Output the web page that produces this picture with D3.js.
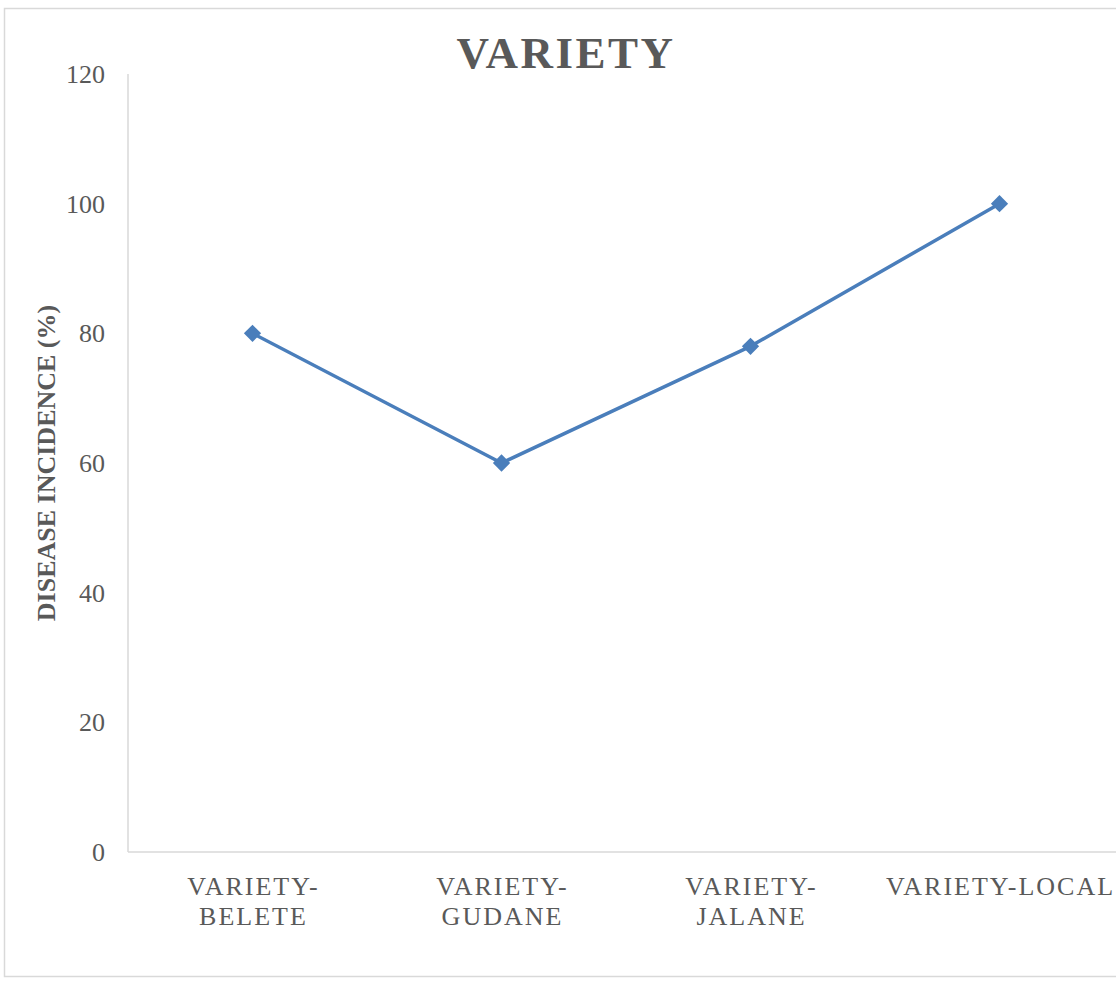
<!DOCTYPE html>
<html>
<head>
<meta charset="utf-8">
<script src="https://cdn.jsdelivr.net/npm/d3@7"></script>
<style>
  html, body { margin: 0; padding: 0; background: #fff; }
  svg { display: block; }
  text { font-family: "Liberation Serif", "Times New Roman", serif; }
</style>
</head>
<body>
<svg id="chart" width="1116" height="982"></svg>
<script>
// Disease incidence by variety
const categories = ["VARIETY-BELETE", "VARIETY-GUDANE", "VARIETY-JALANE", "VARIETY-LOCAL"];
const tickLines = [["VARIETY-", "BELETE"], ["VARIETY-", "GUDANE"], ["VARIETY-", "JALANE"], ["VARIETY-LOCAL"]];
const incidence = [80, 60, 78, 100];
const yTicks = [0, 20, 40, 60, 80, 100, 120];

const svg = d3.select("#chart");
const margin = { left: 128, top: 74, bottom: 852 };

// outer chart border
svg.append("rect")
  .attr("x", 4.5).attr("y", 8.5)
  .attr("width", 1200).attr("height", 968)
  .attr("fill", "#fff").attr("stroke", "#d9d9d9").attr("stroke-width", 1.5);

const x = d3.scaleBand().domain(categories).range([margin.left, margin.left + 4 * 249]);
const y = d3.scaleLinear().domain([0, 120]).range([margin.bottom, margin.top]);

// axis lines
svg.append("line")
  .attr("x1", margin.left).attr("x2", margin.left)
  .attr("y1", margin.top).attr("y2", margin.bottom)
  .attr("stroke", "#d9d9d9").attr("stroke-width", 1.5);
svg.append("line")
  .attr("x1", margin.left).attr("x2", 1116)
  .attr("y1", margin.bottom).attr("y2", margin.bottom)
  .attr("stroke", "#d9d9d9").attr("stroke-width", 1.5);

// y tick labels
svg.append("g").selectAll("text").data(yTicks).join("text")
  .attr("x", 105).attr("y", d => y(d))
  .attr("dy", "0.35em")
  .attr("text-anchor", "end")
  .attr("font-size", 26)
  .attr("fill", "#595959")
  .text(d => d);

// x tick labels
const xl = svg.append("g").selectAll("text").data(categories).join("text")
  .attr("x", d => x(d) + x.bandwidth() / 2 + 1)
  .attr("y", 895)
  .attr("text-anchor", "middle")
  .attr("font-size", 26)
  .attr("letter-spacing", 2)
  .attr("fill", "#595959");
xl.each(function (d, i) {
  const t = d3.select(this);
  tickLines[i].forEach((ln, j) => {
    t.append("tspan")
      .attr("x", x(d) + x.bandwidth() / 2 + 1)
      .attr("dy", j === 0 ? 0 : 30)
      .text(ln);
  });
});

// series line
const pts = categories.map((c, i) => [x(c) + x.bandwidth() / 2, y(incidence[i])]);
svg.append("path")
  .attr("d", d3.line()(pts))
  .attr("fill", "none")
  .attr("stroke", "#4a7ebb")
  .attr("stroke-width", 3.5)
  .attr("stroke-linejoin", "round");

// diamond markers
svg.append("g").selectAll("path").data(pts).join("path")
  .attr("transform", d => `translate(${d[0]},${d[1]})`)
  .attr("d", d3.symbol().type(d3.symbolDiamond2).size(190)())
  .attr("fill", "#4a7ebb");

// title
svg.append("text")
  .attr("x", 566).attr("y", 68)
  .attr("text-anchor", "middle")
  .attr("font-size", 45)
  .attr("font-weight", "bold")
  .attr("letter-spacing", 2.5)
  .attr("fill", "#595959")
  .text("VARIETY");

// y axis title
svg.append("text")
  .attr("transform", "translate(55,463) rotate(-90)")
  .attr("text-anchor", "middle")
  .attr("font-size", 26)
  .attr("font-weight", "bold")
  .attr("fill", "#595959")
  .text("DISEASE INCIDENCE (%)");
</script>
</body>
</html>
